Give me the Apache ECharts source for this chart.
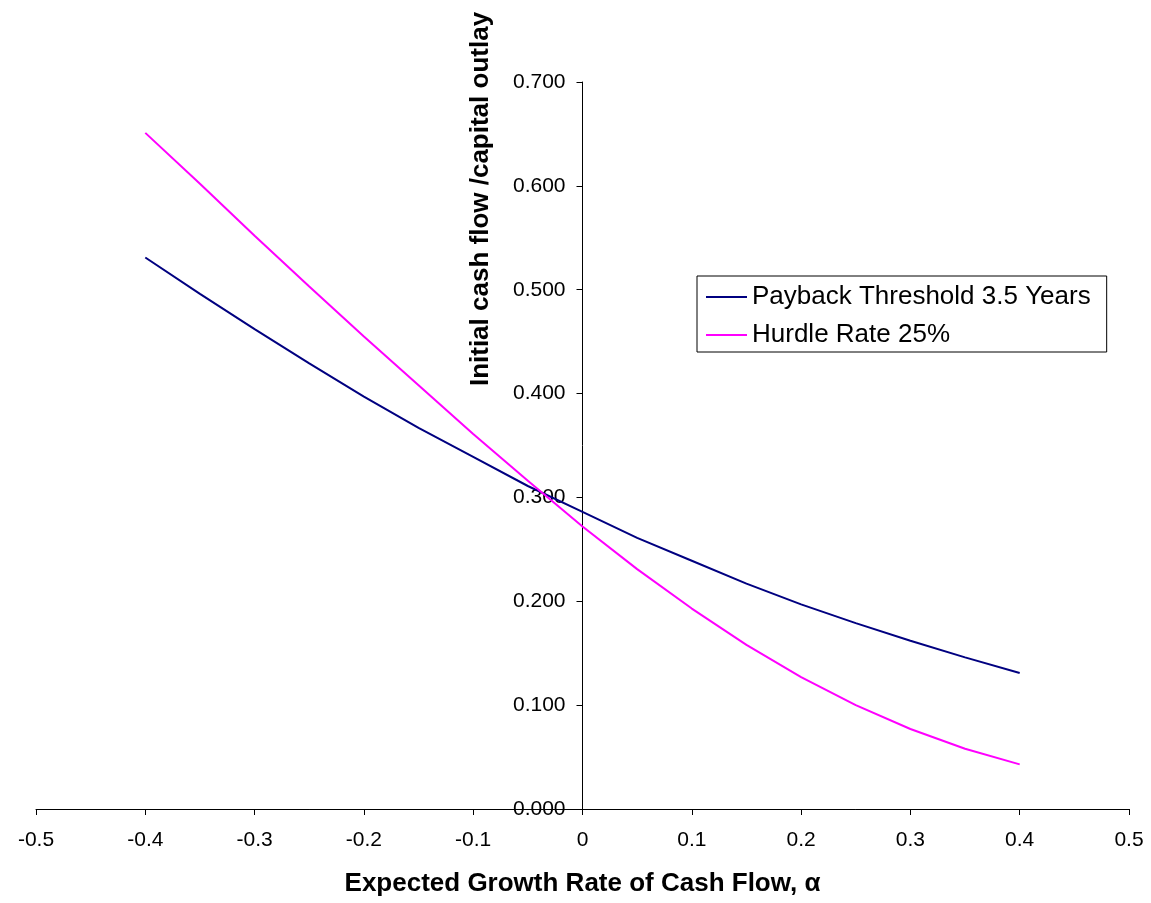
<!DOCTYPE html>
<html>
<head>
<meta charset="utf-8">
<script src="https://cdn.jsdelivr.net/npm/echarts@6/dist/echarts.min.js"></script>
<style>
html,body{margin:0;padding:0;background:#fff;}
#chart{width:1151px;height:903px;}
</style>
</head>
<body>
<div id="chart"></div>
<script>
// Expected growth rate of cash flow (alpha)
var alphaValues = [-0.40,-0.35,-0.30,-0.25,-0.20,-0.15,-0.10,-0.05,0.00,0.05,0.10,0.15,0.20,0.25,0.30,0.35,0.40];
// Payback Threshold 3.5 Years
var paybackValues = [0.531,0.496,0.462,0.429,0.397,0.367,0.339,0.311,0.286,0.261,0.239,0.217,0.197,0.179,0.162,0.146,0.131];
// Hurdle Rate 25%
var hurdleValues = [0.651,0.602,0.552,0.503,0.455,0.408,0.361,0.316,0.272,0.231,0.193,0.158,0.127,0.100,0.077,0.058,0.043];

var seriesNames = ['Payback Threshold 3.5 Years','Hurdle Rate 25%'];
var xTitle = 'Expected Growth Rate of Cash Flow, \u03b1';
var yTitle = 'Initial cash flow /capital outlay';

function pairs(xs, ys){ return xs.map(function(x,i){ return [x, ys[i]]; }); }

var FONT = "'Liberation Sans', Arial, sans-serif";
var GRID = {left:36, right:22, top:82, bottom:94};
var W = 1151, H = 903;
var plotW = W - GRID.left - GRID.right;
var x0px = GRID.left + plotW * 0.5; // where alpha = 0 sits (middle of -0.5..0.5)

var chart = echarts.init(document.getElementById('chart'), null, {renderer:'canvas'});
chart.setOption({
  animation:false,
  backgroundColor:'#ffffff',
  grid:{left:GRID.left, right:GRID.right, top:GRID.top, bottom:GRID.bottom, containLabel:false, outerBoundsMode:'none'},
  legend:{
    orient:'vertical', left:697, top:276,
    padding:[8,16,4,9], itemGap:12,
    borderColor:'#000', borderWidth:1, backgroundColor:'#fff',
    itemWidth:41, itemHeight:2, icon:'rect',
    textStyle:{fontFamily:FONT, fontSize:26, color:'#000'},
    data:seriesNames
  },
  xAxis:{
    type:'value', min:-0.5, max:0.5, interval:0.1,
    axisLine:{onZero:true, lineStyle:{color:'#000', width:1}},
    axisTick:{show:true, length:6, inside:false, lineStyle:{color:'#000'}},
    axisLabel:{fontFamily:FONT, fontSize:21, color:'#000', margin:21,
      formatter:function(v){ var r=Math.round(v*10)/10; return r===0?'0':String(r); }},
    splitLine:{show:false}
  },
  yAxis:{
    type:'value', min:0, max:0.7, interval:0.1,
    position:'left', offset:-(x0px - GRID.left),
    axisLine:{onZero:false, lineStyle:{color:'#000', width:1}},
    axisTick:{show:true, length:6, inside:false, lineStyle:{color:'#000'}},
    axisLabel:{fontFamily:FONT, fontSize:21, color:'#000', margin:17,
      formatter:function(v){ return (Math.round(v*10)/10).toFixed(3); }},
    splitLine:{show:false}
  },
  graphic:[{
    type:'text', x:481, y:199, rotation:Math.PI/2,
    style:{text:yTitle, font:"bold 26px 'Liberation Sans', Arial, sans-serif", fill:'#000',
      textAlign:'center', textVerticalAlign:'middle'}
  },{
    type:'text', x:x0px, y:884,
    style:{text:xTitle, font:"bold 26px 'Liberation Sans', Arial, sans-serif", fill:'#000',
      textAlign:'center', textVerticalAlign:'middle'}
  }],
  series:[
    {name:seriesNames[0], type:'line', data:pairs(alphaValues, paybackValues), showSymbol:false,
      smooth:false, lineStyle:{color:'#000080', width:2}, itemStyle:{color:'#000080'}},
    {name:seriesNames[1], type:'line', data:pairs(alphaValues, hurdleValues), showSymbol:false,
      smooth:false, lineStyle:{color:'#FF00FF', width:2}, itemStyle:{color:'#FF00FF'}}
  ]
});
</script>
</body>
</html>
